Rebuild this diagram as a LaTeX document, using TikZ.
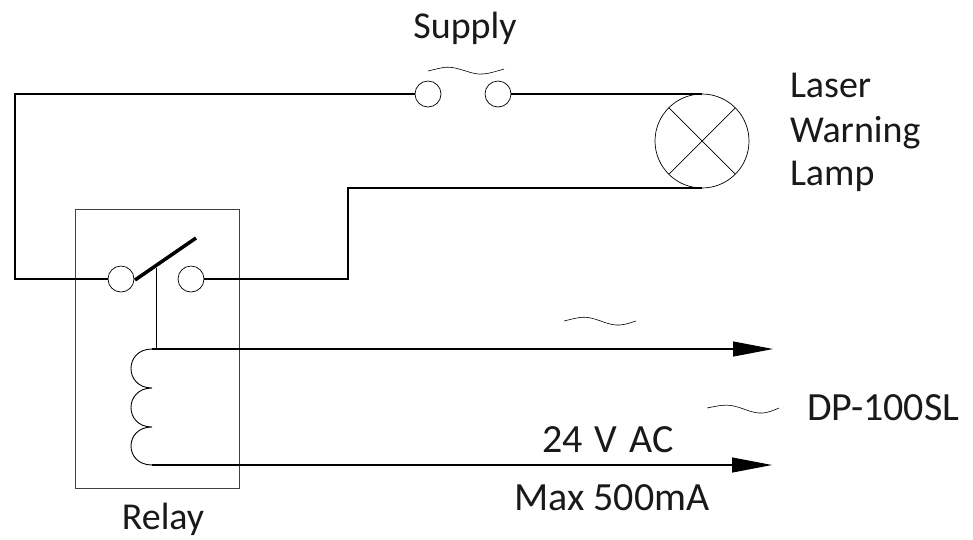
\documentclass[tikz,border=0pt]{standalone}
\usepackage{fontspec}
\setmainfont{Carlito}
\usetikzlibrary{arrows.meta}
\tikzset{
  x=1pt,y=-1pt,
  term/.style={circle,draw,line width=0.7pt,minimum size=26pt,inner sep=0pt,outer sep=0pt},
  lampnode/.style={circle,draw,line width=0.7pt,minimum size=94pt,inner sep=0pt,outer sep=0pt},
  boxnode/.style={rectangle,draw=black!75,line width=0.7pt,minimum width=163.5pt,minimum height=279pt,inner sep=0pt,outer sep=0pt},
  wire/.style={line width=1.1pt,line join=miter},
  thin wire/.style={line width=0.7pt},
  blade/.style={line width=3.5pt},
  coilwire/.style={line width=0.9pt},
  tilde/.style={line width=0.6pt},
  lead/.style={line width=1.1pt,-{Triangle[length=40pt,width=15pt]},shorten >=0pt},
  lbl/.style={font=\fontsize{38pt}{38pt}\selectfont,inner sep=0pt,outer sep=0pt,text=black!90},
  lblwide/.style={lbl,font=\fontsize{40pt}{40pt}\selectfont},
}
\begin{document}
\begin{tikzpicture}
\useasboundingbox (0,0) rectangle (973,539);
\node[boxnode] (relay) at (157.25,348.5) {};
\node[term] (s1) at (428,94) {};
\node[term] (s2) at (498,94) {};
\node[term] (r1) at (121,279) {};
\node[term] (r2) at (191,279) {};
\node[lampnode] (lamp) at (702,141) {};
\coordinate (tl) at (15,94);
\coordinate (bl) at (15,279);
\coordinate (k1) at (348,188);
\coordinate (k2) at (348,279);
\coordinate (bladeend) at (196,238);
\coordinate (bladestart) at (135,280);
\coordinate (stemtop) at (156,268);
\coordinate (stembot) at (156,349);
\coordinate (c0) at (152,349);
\coordinate (c1) at (152,388);
\coordinate (c2) at (152,427);
\coordinate (c3) at (152,465);
\coordinate (a1) at (773,349);
\coordinate (a2) at (772,465);
\draw[wire] (r1.west) -- (bl) -- (tl) -- (s1.west);
\draw[wire] (s2.east) -- (lamp.north);
\draw[wire] (lamp.south) -- (k1) -- (k2) -- (r2.east);
\draw[thin wire] (lamp.45) -- (lamp.225) (lamp.135) -- (lamp.315);
\draw[blade] (bladestart) -- (bladeend);
\draw[thin wire] (stemtop) -- (stembot);
\draw[coilwire] (c0) .. controls (124,349) and (124,388) .. (c1)
            (c1) .. controls (124,388) and (124,427) .. (c2)
            (c2) .. controls (124,427) and (124,465) .. (c3);
\draw[lead] (c0) -- (a1);
\draw[lead] (c3) -- (a2);
\draw[tilde] (428,71) .. controls (440,68) and (446,66.5) .. (452,67.5) .. controls (463,69) and (473,75) .. (483,74) .. controls (490,73.5) and (497,71) .. (504,69);
\draw[tilde] (564,321) .. controls (576,318) and (582,316.5) .. (588,317.5) .. controls (599,319) and (609,326) .. (620,325) .. controls (626,324.5) and (631,322.5) .. (636,321);
\draw[tilde] (707,408) .. controls (719,405.5) and (725,404.5) .. (731,405.5) .. controls (742,407) and (752,414) .. (763,413) .. controls (769,412.5) and (774,410) .. (779,408);
\node[lbl,anchor=base] (supply) at (465,38) {Supply};
\node[lbl,anchor=base west] (l1) at (790,97) {Laser};
\node[lbl,anchor=base west] (l2) at (790,142) {Warning};
\node[lbl,anchor=base west] (l3) at (790,185) {Lamp};
\node[lbl,anchor=base] (relaylbl) at (163,529) {Relay};
\node[lblwide,anchor=base west] (dp) at (807,420) {DP-100SL};
\node[lblwide,anchor=base] (ac) at (608,452) {24\hspace{3pt} V\hspace{3pt} AC};
\node[lblwide,anchor=base] (max) at (612,510) {Max 500mA};
\end{tikzpicture}
\end{document}
